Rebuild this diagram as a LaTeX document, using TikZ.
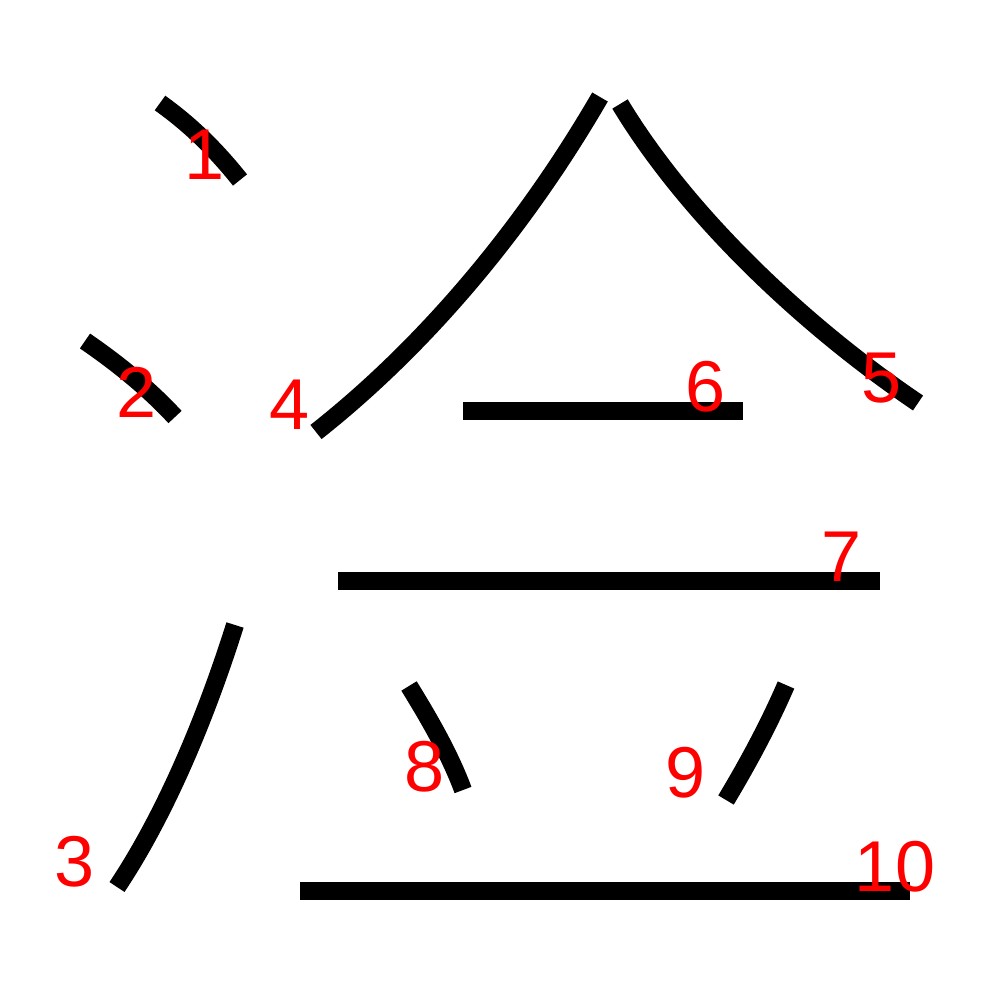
\documentclass[tikz,border=0pt]{standalone}
\usepackage{fontspec}
\setmainfont{Liberation Sans}
\begin{document}
\begin{tikzpicture}[x=1pt,y=-1pt]
\tikzset{stroke/.style={draw, line width=18pt}}
\tikzset{num/.style={text=red, font=\fontsize{72}{72}\selectfont, inner sep=0pt}}
\useasboundingbox (0,0) rectangle (1000,1000);
% strokes
\draw[stroke] (160,103) .. controls (195,128) and (220,155) .. (240,180);
\draw[stroke] (85,341) .. controls (120,365) and (150,390) .. (175,417);
\draw[stroke] (235,625) .. controls (205,720) and (165,815) .. (117,887);
\draw[stroke] (600,97) .. controls (520,235) and (420,350) .. (316,432);
\draw[stroke] (620,104) .. controls (690,220) and (810,330) .. (918,403);
\draw[stroke] (463,411) -- (743,411);
\draw[stroke] (338,581) -- (880,581);
\draw[stroke] (409,686) .. controls (430,720) and (450,755) .. (463,790);
\draw[stroke] (786,685) .. controls (770,722) and (750,760) .. (726,800);
\draw[stroke] (300,891) -- (910,891);
% stroke numbers
\node[num] (n1) at (205,155) {1};
\node[num] (n2) at (137,392) {2};
\node[num] (n3) at (75,862) {3};
\node[num] (n4) at (290,405) {4};
\node[num] (n5) at (882,378) {5};
\node[num] (n6) at (706,387) {6};
\node[num] (n7) at (842,557) {7};
\node[num] (n8) at (425,767) {8};
\node[num] (n9) at (686,773) {9};
\node[num] (n10) at (895,867) {10};
\end{tikzpicture}
\end{document}
